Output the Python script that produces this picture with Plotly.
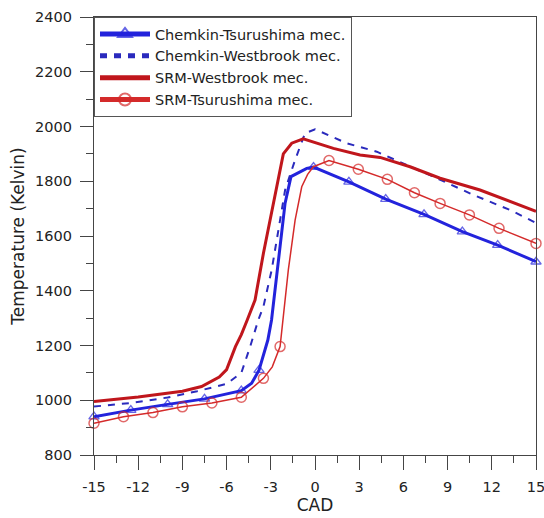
import plotly.graph_objects as go

# ---- data ----
ct_x = [-15, -12.5, -10, -7.5, -5, -4.3, -3.8, -3.2, -2.95, -2.4, -2.03, -1.63, -0.56, -0.1, 2.3, 4.8, 7.4, 10, 12.4, 15]
ct_y = [940, 964, 985, 1005, 1035, 1062, 1110, 1220, 1293, 1538, 1720, 1817, 1847, 1852, 1798, 1735, 1679, 1616, 1567, 1506]
ct_mark = [1, 1, 1, 1, 1, 0, 1, 0, 0, 0, 0, 0, 0, 1, 1, 1, 1, 1, 1, 1]

cw_x = [-15, -12.5, -10, -8, -6, -5, -4.4, -3.85, -3.5, -2.94, -2.37, -2.03, -1.35, -0.68, 0, 2.15, 4.19, 5.77, 8.27, 10.76, 13.24, 15]
cw_y = [977, 990, 1010, 1033, 1060, 1100, 1196, 1293, 1342, 1476, 1658, 1768, 1878, 1975, 1990, 1939, 1908, 1871, 1811, 1750, 1695, 1648]

sw_x = [-15, -12, -9, -7.7, -6.5, -6, -5.4, -5, -4.6, -4.07, -3.5, -2.83, -2.15, -1.58, -0.8, 1.25, 3.06, 4.42, 6.45, 8.49, 11.2, 15]
sw_y = [995, 1012, 1033, 1050, 1085, 1112, 1196, 1240, 1293, 1366, 1537, 1719, 1900, 1939, 1955, 1920, 1896, 1887, 1853, 1811, 1768, 1690]

st_x = [-15, -13, -11, -9, -7, -5, -3.5, -2.9, -2.37, -1.81, -1.35, -0.9, -0.5, -0.11, 0.95, 2.94, 4.91, 6.75, 8.49, 10.48, 12.49, 15]
st_y = [916, 940, 955, 976, 990, 1011, 1080, 1122, 1196, 1476, 1658, 1780, 1825, 1853, 1876, 1844, 1807, 1758, 1719, 1677, 1628, 1573]
st_mark = [1, 1, 1, 1, 1, 1, 1, 0, 1, 0, 0, 0, 0, 0, 1, 1, 1, 1, 1, 1, 1, 1]

x_ticks = [-15, -12, -9, -6, -3, 0, 3, 6, 9, 12, 15]
y_ticks = [800, 1000, 1200, 1400, 1600, 1800, 2000, 2200, 2400]

names = ["Chemkin-Tsurushima mec.", "Chemkin-Westbrook mec.", "SRM-Westbrook mec.", "SRM-Tsurushima mec."]

BLUE = "#2323dc"
BLUE_D = "#2a2abd"
RED = "#c0161c"
RED_T = "#d42a2a"
AX = "#454545"
FONT = "DejaVu Sans"

fig = go.Figure()
fig.add_trace(go.Scatter(
    x=ct_x, y=ct_y, name=names[0], mode="lines+markers",
    line=dict(color=BLUE, width=3),
    marker=dict(symbol="triangle-up-open", size=[9 * m for m in ct_mark], color=BLUE, line=dict(width=1.3, color=BLUE)),
    cliponaxis=False))
fig.add_trace(go.Scatter(
    x=cw_x, y=cw_y, name=names[1], mode="lines",
    line=dict(color=BLUE_D, width=2, dash="7px,7px")))
fig.add_trace(go.Scatter(
    x=sw_x, y=sw_y, name=names[2], mode="lines",
    line=dict(color=RED, width=3)))
fig.add_trace(go.Scatter(
    x=st_x, y=st_y, name=names[3], mode="lines+markers",
    line=dict(color=RED_T, width=1.5),
    marker=dict(symbol="circle-open", size=[10 * m for m in st_mark], color=RED_T, line=dict(width=1.5, color=RED_T)),
    cliponaxis=False))

axis_common = dict(
    showgrid=False, zeroline=False, showline=True, linecolor=AX, linewidth=1.2,
    mirror=True, ticks="outside", tickcolor=AX, tickwidth=1.2,
    tickfont=dict(family=FONT, size=14.5, color="#222"),
    ticklabeloverflow="allow", automargin=False,
)

fig.update_xaxes(
    range=[-15, 15], tickvals=x_ticks, ticktext=[str(v) for v in x_ticks], ticklen=14,
    minor=dict(dtick=1.5, tick0=-15, ticks="outside", ticklen=7, tickcolor=AX, tickwidth=1.2),
    title=dict(text="CAD", font=dict(family=FONT, size=17, color="#222"), standoff=5),
    ticklabelstandoff=4,
    **axis_common)
fig.update_yaxes(
    range=[800, 2400], tickvals=y_ticks, ticktext=[str(v) for v in y_ticks], ticklen=13,
    minor=dict(dtick=100, tick0=800, ticks="outside", ticklen=7, tickcolor=AX, tickwidth=1.2),
    title=dict(text="Temperature (Kelvin)", font=dict(family=FONT, size=17, color="#222"), standoff=6),
    ticklabelstandoff=5,
    **axis_common)

fig.update_layout(
    width=544, height=518,
    margin=dict(l=94, r=8, t=17, b=63),
    paper_bgcolor="white", plot_bgcolor="white",
    showlegend=True,
    legend=dict(
        x=0, y=1, xanchor="left", yanchor="top",
        bgcolor="white", bordercolor="#555", borderwidth=1,
        font=dict(family=FONT, size=14.5, color="#222"),
        itemwidth=50, itemsizing="constant", tracegroupgap=0,
    ),
)

fig.write_html("out.html")
